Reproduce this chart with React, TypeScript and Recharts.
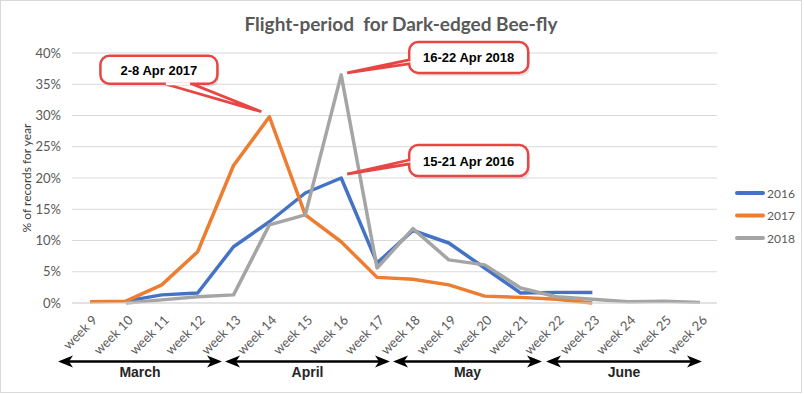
import React from 'react';
import { LineChart, Line, XAxis, YAxis, CartesianGrid, ReferenceDot } from 'recharts';

if (typeof document !== 'undefined') document.body.style.margin = '0';

const weeks = [
  'week 9', 'week 10', 'week 11', 'week 12', 'week 13', 'week 14', 'week 15', 'week 16', 'week 17',
  'week 18', 'week 19', 'week 20', 'week 21', 'week 22', 'week 23', 'week 24', 'week 25', 'week 26',
];
const pct2016 = [null, 0.3, 1.3, 1.6, 9.0, 13.0, 17.6, 20.0, 6.4, 11.6, 9.6, 5.6, 1.6, 1.7, 1.7, null, null, null];
const pct2017 = [0.2, 0.3, 2.9, 8.2, 22.0, 29.8, 14.1, 9.8, 4.1, 3.8, 2.9, 1.1, 0.9, 0.6, 0.0, null, null, null];
const pct2018 = [null, 0.0, 0.5, 1.0, 1.3, 12.5, 14.1, 36.5, 5.6, 11.9, 6.9, 6.1, 2.4, 1.0, 0.6, 0.2, 0.3, 0.1];
const yTicks = [0, 5, 10, 15, 20, 25, 30, 35, 40];
const months = ['March', 'April', 'May', 'June'];

const callouts = [
  { week: 'week 14', value: 29.8, text: '2-8 Apr 2017' },
  { week: 'week 16', value: 36.5, text: '16-22 Apr 2018' },
  { week: 'week 16', value: 20.0, text: '15-21 Apr 2016' },
];

const data = weeks.map((w, i) => ({ week: w, y2016: pct2016[i], y2017: pct2017[i], y2018: pct2018[i] }));

const series = [
  { key: 'y2016', name: '2016', color: '#4472C4' },
  { key: 'y2017', name: '2017', color: '#ED7D31' },
  { key: 'y2018', name: '2018', color: '#A5A5A5' },
];

// callout geometry relative to the data point: box, wedge base, wedge tip
const calloutLayout = [
  { box: [-169, -61, 117, 28], base: [[-105, -33], [-78, -33]], tip: [-8, -5] },
  { box: [68, -33, 119, 31], base: [[68, -15], [68, -11]], tip: [6, -2] },
  { box: [68, -33, 119, 31], base: [[68, -18], [68, -14]], tip: [6, -4] },
];

// month arrows (pixel extents under the axis)
const monthSpans = [[58, 222], [225, 390], [393, 542], [546, 702]];

const font = 'Lato, "Open Sans", sans-serif';
const red = '#E84545';

const WeekTick = ({ x, y, payload }: any) => (
  <g transform={`translate(${x + 8},${y + 18}) rotate(-45)`}>
    <text x={0} y={0} textAnchor="end" fontSize={13} fill="#595959" fontFamily={font}>
      {payload.value}
    </text>
  </g>
);

const makeCallout = (idx: number) => (props: any) => {
  const { cx, cy } = props;
  const l = calloutLayout[idx];
  const [bx, by, bw, bh] = l.box;
  const b0 = [cx + l.base[0][0], cy + l.base[0][1]];
  const b1 = [cx + l.base[1][0], cy + l.base[1][1]];
  const pts = [b0, [cx + l.tip[0], cy + l.tip[1]], b1].map((p) => p.join(',')).join(' ');
  const horiz = b0[1] === b1[1];
  return (
    <g>
      <rect x={cx + bx + 2} y={cy + by + 3} width={bw} height={bh} rx={9} fill="#000" opacity={0.1} />
      <polygon points={pts} fill="#fff" stroke={red} strokeWidth={2.8} strokeLinejoin="miter" />
      <rect x={cx + bx} y={cy + by} width={bw} height={bh} rx={9} fill="#fff" stroke={red} strokeWidth={2.5} />
      {horiz ? (
        <line x1={b0[0] + 1.4} x2={b1[0] - 1.4} y1={b0[1]} y2={b1[1]} stroke="#fff" strokeWidth={3} />
      ) : (
        <line x1={b0[0]} x2={b1[0]} y1={b0[1] + 1.4} y2={b1[1] - 1.4} stroke="#fff" strokeWidth={3} />
      )}
      <text
        x={cx + bx + bw / 2}
        y={cy + by + bh / 2 + 5}
        textAnchor="middle"
        fontSize={13}
        fontWeight="bold"
        fontFamily='"Liberation Sans", Arial, sans-serif'
        fill="#000"
      >
        {callouts[idx].text}
      </text>
    </g>
  );
};

const Arrow = ({ x1, x2, y }: { x1: number; x2: number; y: number }) => (
  <g>
    <line x1={x1 + 8} x2={x2 - 8} y1={y} y2={y} stroke="#000" strokeWidth={2.5} />
    <polygon points={`${x1},${y} ${x1 + 15},${y - 6} ${x1 + 11},${y} ${x1 + 15},${y + 6}`} fill="#000" />
    <polygon points={`${x2},${y} ${x2 - 15},${y - 6} ${x2 - 11},${y} ${x2 - 15},${y + 6}`} fill="#000" />
  </g>
);

export default function App() {
  return (
    <div style={{ position: 'relative', width: 804, height: 394, background: '#fff' }}>
      <LineChart width={804} height={394} data={data} margin={{ top: 53, right: 87, bottom: 0, left: 0 }}>
        <CartesianGrid vertical={false} stroke="#D9D9D9" strokeWidth={1} />
        <XAxis
          dataKey="week"
          interval={0}
          height={91}
          padding={{ left: 18, right: 17 }}
          tickSize={0}
          tickMargin={0}
          axisLine={{ stroke: '#D9D9D9' }}
          tick={<WeekTick />}
        />
        <YAxis
          width={72}
          domain={[0, 40]}
          ticks={yTicks}
          tickSize={0}
          tickMargin={11}
          axisLine={false}
          tickLine={false}
          tickFormatter={(v) => `${v}%`}
          tick={{ fill: '#595959', fontSize: 13, fontFamily: font }}
        />
        {series.map((s) => (
          <Line
            key={s.key}
            type="linear"
            dataKey={s.key}
            name={s.name}
            stroke={s.color}
            strokeWidth={3.5}
            strokeLinejoin="round"
            dot={false}
            activeDot={false}
            isAnimationActive={false}
          />
        ))}
        {callouts.map((c, i) => (
          <ReferenceDot key={i} x={c.week} y={c.value} r={0} shape={makeCallout(i)} />
        ))}
      </LineChart>
      <svg width={804} height={394} style={{ position: 'absolute', left: 0, top: 0, pointerEvents: 'none' }}>
        <rect x={0.5} y={0.5} width={801} height={392} fill="none" stroke="#D9D9D9" />
        <text
          x={401}
          y={31}
          textAnchor="middle"
          fontSize={19}
          fontWeight="bold"
          fontFamily={font}
          fill="#595959"
          style={{ whiteSpace: 'pre' }}
        >
          {'Flight-period  for Dark-edged Bee-fly'}
        </text>
        <text
          transform="translate(31,178) rotate(-90)"
          textAnchor="middle"
          fontSize={12}
          fontFamily={font}
          fill="#404040"
        >
          % of records for year
        </text>
        {months.map((m, i) => (
          <g key={m}>
            <Arrow x1={monthSpans[i][0]} x2={monthSpans[i][1]} y={361.5} />
            <text
              x={(monthSpans[i][0] + monthSpans[i][1]) / 2}
              y={377}
              textAnchor="middle"
              fontSize={14}
              fontWeight="bold"
              fontFamily='"Liberation Sans", Arial, sans-serif'
              fill="#262626"
            >
              {m}
            </text>
          </g>
        ))}
        {series.map((s, i) => (
          <g key={s.key}>
            <line x1={737} x2={763} y1={193 + i * 22.5} y2={193 + i * 22.5} stroke={s.color} strokeWidth={4} strokeLinecap="round" />
            <text x={767} y={197.5 + i * 22.5} fontSize={12} fontFamily={font} fill="#595959">
              {s.name}
            </text>
          </g>
        ))}
      </svg>
    </div>
  );
}
